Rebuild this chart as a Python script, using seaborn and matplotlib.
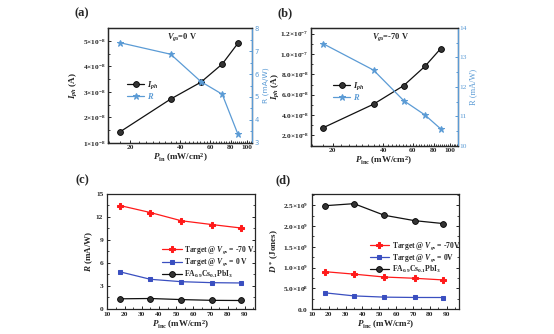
import numpy as np
import pandas as pd
import matplotlib
matplotlib.use("Agg")
import matplotlib.pyplot as plt
import seaborn as sns
from matplotlib.ticker import FixedLocator, FixedFormatter, NullFormatter, AutoMinorLocator, MultipleLocator

# ---------------- data ----------------
p_inc = [17.5, 35, 53, 71, 88]

a_iph = [1.44e-8, 2.72e-8, 3.38e-8, 4.09e-8, 4.90e-8]
a_r = [7.36, 6.86, 5.67, 5.12, 3.39]

b_iph = [2.75e-8, 5.07e-8, 6.90e-8, 8.80e-8, 1.053e-7]
b_r = [13.47, 12.57, 11.53, 11.04, 10.57]

c_target_m70 = [13.45, 12.55, 11.48, 10.98, 10.53]
c_target_0 = [4.82, 3.86, 3.55, 3.42, 3.38]
c_fa = [1.32, 1.36, 1.22, 1.12, 1.10]

d_target_m70 = [0.90e9, 0.84e9, 0.77e9, 0.74e9, 0.70e9]
d_target_0 = [0.39e9, 0.315e9, 0.285e9, 0.277e9, 0.276e9]
d_fa = [2.49e9, 2.54e9, 2.26e9, 2.13e9, 2.06e9]

a_yticks = [1e-8, 2e-8, 3e-8, 4e-8, 5e-8]
a_yticklabels = [r"$\mathbf{1{\times}10^{-8}}$", r"$\mathbf{2{\times}10^{-8}}$", r"$\mathbf{3{\times}10^{-8}}$",
                 r"$\mathbf{4{\times}10^{-8}}$", r"$\mathbf{5{\times}10^{-8}}$"]
a_rticks = [3, 4, 5, 6, 7, 8]
b_yticks = [2e-8, 4e-8, 6e-8, 8e-8, 1.0e-7, 1.2e-7]
b_yticklabels = [r"$\mathbf{2.0{\times}10^{-8}}$", r"$\mathbf{4.0{\times}10^{-8}}$", r"$\mathbf{6.0{\times}10^{-8}}$",
                 r"$\mathbf{8.0{\times}10^{-8}}$", r"$\mathbf{1.0{\times}10^{-7}}$", r"$\mathbf{1.2{\times}10^{-7}}$"]
b_rticks = [10, 11, 12, 13, 14]
d_yticks = [0, 0.5e9, 1.0e9, 1.5e9, 2.0e9, 2.5e9]
d_yticklabels = [r"$\mathbf{0.0}$", r"$\mathbf{5.0{\times}10^{8}}$", r"$\mathbf{1.0{\times}10^{9}}$",
                 r"$\mathbf{1.5{\times}10^{9}}$", r"$\mathbf{2.0{\times}10^{9}}$", r"$\mathbf{2.5{\times}10^{9}}$"]
log_xticks = [20, 40, 60, 80, 100]

# ---------------- style ----------------
sns.set_style("ticks")
plt.rcParams["font.family"] = ["Liberation Serif", "DejaVu Serif"]
plt.rcParams["font.weight"] = "bold"
plt.rcParams["mathtext.fontset"] = "custom"
plt.rcParams["mathtext.rm"] = "Liberation Serif:bold"
plt.rcParams["mathtext.bf"] = "Liberation Serif:bold"
plt.rcParams["mathtext.it"] = "Liberation Serif:bold:italic"
plt.rcParams["axes.linewidth"] = 0.9
plt.rcParams["xtick.direction"] = "in"
plt.rcParams["ytick.direction"] = "in"

BLACK = "#111111"
LBLUE = "#5B9BD5"
RED = "#FF1A1A"
DBLUE = "#3A4FC0"
TICKFS = 5.3
LABFS = 6.5

fig = plt.figure(figsize=(5.54, 3.34), dpi=100)
ax_a = fig.add_axes([0.195, 0.572, 0.260, 0.344])
ax_b = fig.add_axes([0.561, 0.564, 0.265, 0.352])
ax_c = fig.add_axes([0.194, 0.075, 0.266, 0.345])
ax_d = fig.add_axes([0.563, 0.075, 0.266, 0.345])

circ = dict(marker="o", markersize=4.2, markerfacecolor="#333333", markeredgecolor="black", markeredgewidth=0.6)
star = dict(marker="*", markersize=4.5, markerfacecolor=LBLUE, markeredgecolor=LBLUE)


def style_ticks(ax):
    ax.tick_params(axis="both", which="major", labelsize=TICKFS, length=2.5, width=0.7, pad=1.5)
    ax.tick_params(axis="both", which="minor", length=1.5, width=0.6)


def top_panel(ax, iph, r, yticks, yticklabels, ylim_l, rlim, rticks, xlim, xlabel, vtext, vpos, legpos,
              serif_right, ylab_x, rlab_x):
    df = pd.DataFrame({"P": p_inc, "Iph": iph, "R": r})
    sns.lineplot(data=df, x="P", y="Iph", ax=ax, color=BLACK, linewidth=0.9, label=r"$I_{ph}$", **circ)
    ax.set_xscale("log")
    ax.set_xlim(*xlim)
    ax.set_ylim(*ylim_l)
    ax.xaxis.set_major_locator(FixedLocator(log_xticks))
    ax.xaxis.set_major_formatter(FixedFormatter([str(t) for t in log_xticks]))
    ax.xaxis.set_minor_locator(MultipleLocator(2.5))
    ax.xaxis.set_minor_formatter(NullFormatter())
    ax.set_yticks(yticks)
    ax.set_yticklabels(yticklabels)
    ax.yaxis.set_minor_locator(AutoMinorLocator(2))
    style_ticks(ax)
    ax.set_xlabel(xlabel, fontsize=LABFS, fontweight="bold", labelpad=1)
    ax.set_ylabel(r"$I_{ph}$ (A)", fontsize=LABFS, fontweight="bold")
    ax.yaxis.set_label_coords(ylab_x, 0.5)

    ax2 = ax.twinx()
    sns.lineplot(data=df, x="P", y="R", ax=ax2, color=LBLUE, linewidth=0.9, label=r"$R$", **star)
    ax2.set_ylim(*rlim)
    fam = "Liberation Serif" if serif_right else "DejaVu Sans"
    ax2.set_yticks(rticks, labels=[str(t) for t in rticks], fontfamily=fam, fontweight="normal",
                   fontsize=TICKFS if serif_right else TICKFS - 0.4)
    ax2.yaxis.set_minor_locator(AutoMinorLocator(2))
    ax2.tick_params(axis="y", which="both", colors=LBLUE, length=2.5, width=0.7, pad=1.5)
    ax2.tick_params(axis="y", which="minor", length=1.5)
    ax2.spines["right"].set_color(LBLUE)
    ax2.set_ylabel("R (mA/W)", fontsize=LABFS - 0.5 if serif_right else 5.4, color=LBLUE, family=fam,
                   fontweight="normal")
    ax2.yaxis.set_label_coords(rlab_x, 0.5)
    ax.text(vpos[0], vpos[1], vtext, transform=ax.transAxes, fontsize=6, fontweight="bold", ha="left", va="center")
    h1, l1 = ax.get_legend_handles_labels()
    h2, l2 = ax2.get_legend_handles_labels()
    ax2.get_legend().remove()
    leg = ax.legend(h1 + h2, l1 + l2, frameon=False, fontsize=6, loc="upper left", bbox_to_anchor=legpos,
                    handlelength=2.0, handletextpad=0.3, labelspacing=0.05, borderpad=0.1)
    leg.get_texts()[1].set_color(LBLUE)
    return ax2


top_panel(ax_a, a_iph, a_r, a_yticks, a_yticklabels, (1e-8, 5.5e-8), (3, 8), a_rticks,
          (14.8, 107), r"$P_{\rm in}$ (mW/cm$^2$)", r"$V_{gs}$=0 V", (0.41, 0.92), (0.1, 0.6), False, -0.2, 1.075)
top_panel(ax_b, b_iph, b_r, b_yticks, b_yticklabels, (1e-8, 1.255e-7), (10, 14), b_rticks,
          (14.8, 111), r"$P_{\rm inc}$ (mW/cm$^2$)", r"$V_{gs}$=-70 V", (0.42, 0.92), (0.12, 0.6), True, -0.2, 1.08)


def bottom_panel(ax, s1, s2, s3, labels, ylim, yticks, yticklabels, ylabel, xlim, legpos):
    df = pd.DataFrame({"P": p_inc, "s1": s1, "s2": s2, "s3": s3})
    sns.lineplot(data=df, x="P", y="s1", ax=ax, color=RED, linewidth=0.9, marker="P", markersize=4.5,
                 markeredgecolor=RED, markerfacecolor=RED, label=labels[0])
    sns.lineplot(data=df, x="P", y="s2", ax=ax, color=DBLUE, linewidth=0.9, marker="s", markersize=3.5,
                 markeredgecolor=DBLUE, markerfacecolor=DBLUE, label=labels[1])
    sns.lineplot(data=df, x="P", y="s3", ax=ax, color=BLACK, linewidth=0.9, label=labels[2], **circ)
    ax.set_xlim(*xlim)
    ax.set_ylim(*ylim)
    ax.set_xticks([10, 20, 30, 40, 50, 60, 70, 80, 90])
    ax.set_yticks(yticks)
    if yticklabels is not None:
        ax.set_yticklabels(yticklabels)
    ax.xaxis.set_minor_locator(AutoMinorLocator(2))
    ax.yaxis.set_minor_locator(AutoMinorLocator(2))
    style_ticks(ax)
    ax.tick_params(axis="y", which="major", pad=3)
    ax.tick_params(axis="x", which="major", pad=2.5)
    ax.tick_params(right=True, top=False, which="both")
    ax.set_xlabel(r"$P_{\rm inc}$ (mW/cm$^2$)", fontsize=LABFS, fontweight="bold", labelpad=0.5)
    ax.set_ylabel(ylabel, fontsize=LABFS, fontweight="bold", labelpad=1)
    ax.legend(frameon=False, fontsize=5.5, loc="upper left", bbox_to_anchor=legpos,
              handlelength=2.6, handletextpad=0.3, labelspacing=0.05, borderpad=0.1)


bottom_panel(ax_c, c_target_m70, c_target_0, c_fa,
             [r"Target @ $V_{gs}$ = -70 V", r"Target @ $V_{gs}$ = 0 V", r"FA$_{0.9}$Cs$_{0.1}$PbI$_3$"],
             (0, 15), [0, 3, 6, 9, 12, 15], None, r"$R$ (mA/W)", (10, 95.8), (0.34, 0.6))
bottom_panel(ax_d, d_target_m70, d_target_0, d_fa,
             [r"Target @ $V_{gs}$ = -70V", r"Target @ $V_{gs}$ = 0V", r"FA$_{0.9}$Cs$_{0.1}$PbI$_3$"],
             (0, 2.78e9), d_yticks, d_yticklabels, r"$D^*$ (Jones)", (10, 97.5), (0.36, 0.64))

fig.text(82 / 554, 1 - 13 / 334, "(a)", fontsize=9, fontweight="bold", ha="center", va="center")
fig.text(285 / 554, 1 - 13 / 334, "(b)", fontsize=9, fontweight="bold", ha="center", va="center")
fig.text(82 / 554, 1 - 180 / 334, "(c)", fontsize=9, fontweight="bold", ha="center", va="center")
fig.text(283 / 554, 1 - 180 / 334, "(d)", fontsize=9, fontweight="bold", ha="center", va="center")

fig.savefig("out.png", dpi=100)
